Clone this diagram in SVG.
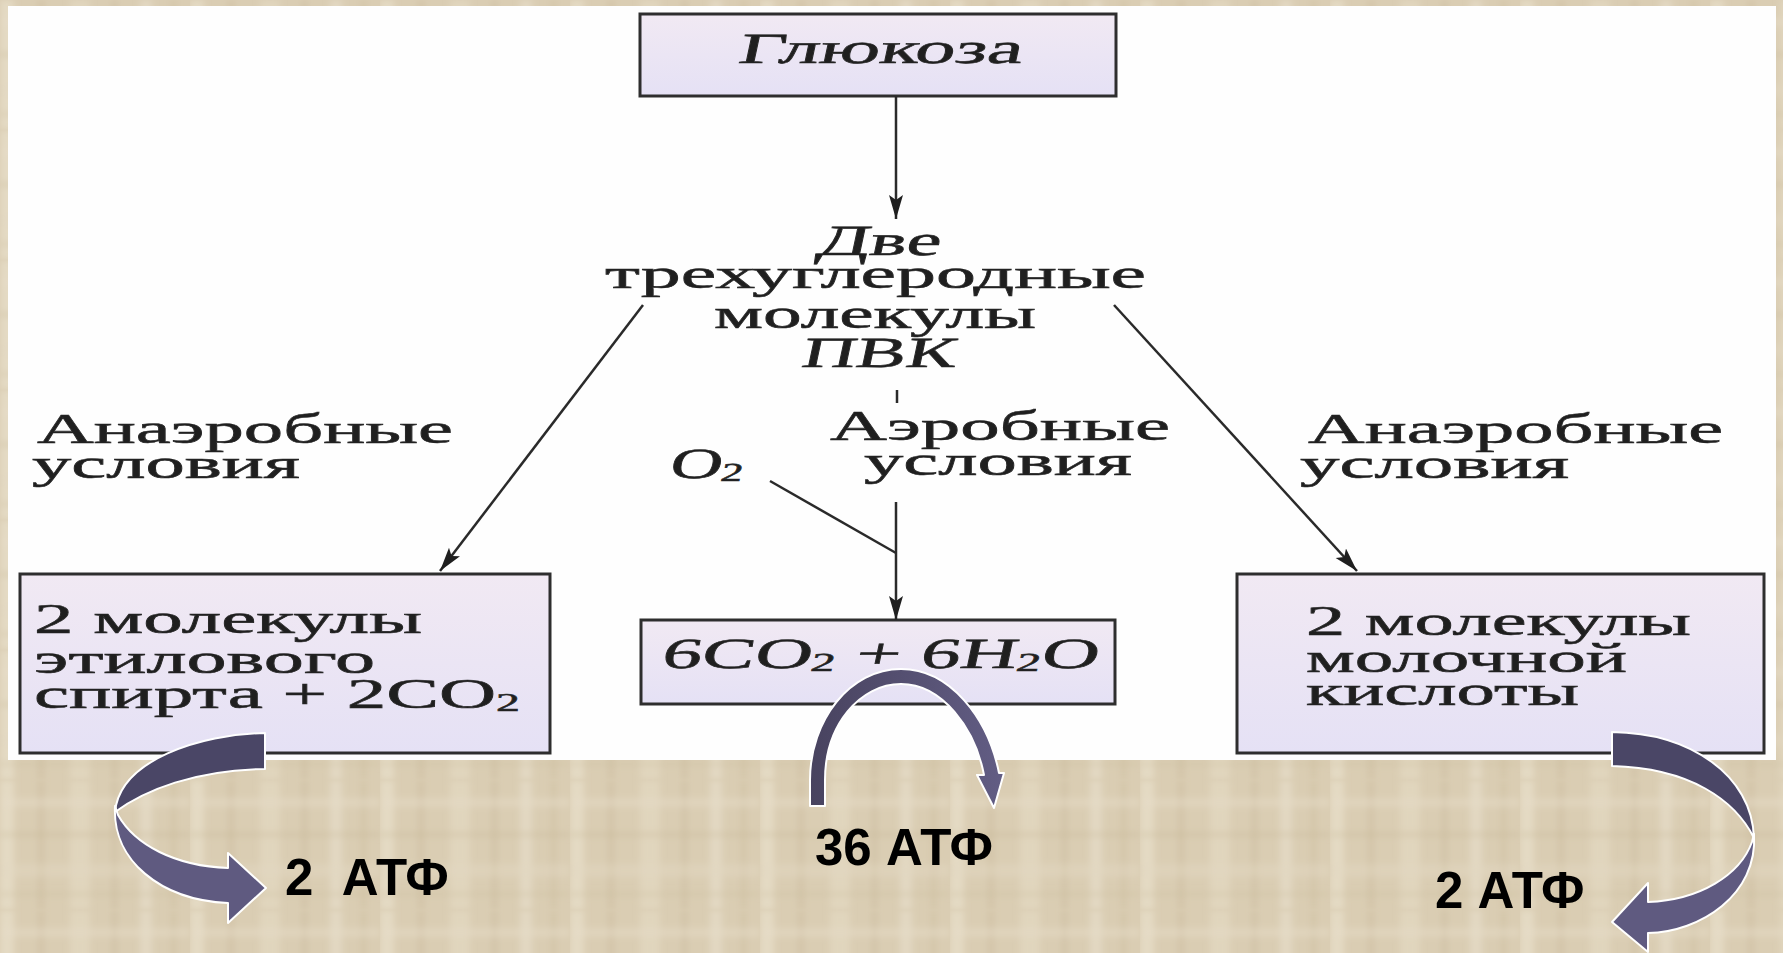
<svg xmlns="http://www.w3.org/2000/svg" width="1783" height="953" viewBox="0 0 1783 953">
<defs>
<style>
.bx{fill:url(#boxfill);stroke:#2e2e2e;stroke-width:3}
.t{font-family:"Liberation Serif","Times New Roman",serif;font-size:43px;fill:#1f1f1f;stroke:#2a2a2a;stroke-width:0.6}
.sub{font-size:26px}
.atp{font-family:"Liberation Sans",Arial,sans-serif;font-weight:bold;font-size:51px;fill:#000}
.ln{fill:none;stroke:#2a2a2a;stroke-width:2.5}
.arr{stroke:#fff;stroke-width:2;stroke-linejoin:round}
.dk{fill:#4a4666}
.lt{fill:#5f5a80}
</style>
<linearGradient id="boxfill" x1="0" y1="0" x2="0" y2="1">
<stop offset="0" stop-color="#f1e9f3"/>
<stop offset="1" stop-color="#e5e1f5"/>
</linearGradient>
<linearGradient id="midg" x1="0" y1="0" x2="1" y2="0">
<stop offset="0" stop-color="#48435f"/>
<stop offset="1" stop-color="#625d84"/>
</linearGradient>
<marker id="ah" markerUnits="userSpaceOnUse" markerWidth="26" markerHeight="16" refX="24" refY="7" orient="auto">
<path d="M0,0 L24,7 L0,14 L5,7 Z" fill="#1f1f1f"/>
</marker>
<filter id="soft" x="0" y="0" width="1" height="1"><feGaussianBlur stdDeviation="3"/></filter>
<pattern id="tex" width="190" height="130" patternUnits="userSpaceOnUse">
<rect width="190" height="130" fill="#dacdb3"/>
<g filter="url(#soft)">
<rect x="0" y="0" width="14" height="130" fill="#ebe2cf" opacity="0.6"/>
<rect x="38" y="0" width="6" height="130" fill="#c5b594" opacity="0.35"/>
<rect x="70" y="0" width="20" height="130" fill="#e7ddc7" opacity="0.5"/>
<rect x="112" y="0" width="5" height="130" fill="#bcab8a" opacity="0.3"/>
<rect x="140" y="0" width="12" height="130" fill="#ece4d2" opacity="0.5"/>
<rect x="170" y="0" width="7" height="130" fill="#cbbb9d" opacity="0.3"/>
<rect x="0" y="18" width="190" height="9" fill="#e8dfcb" opacity="0.4"/>
<rect x="0" y="52" width="190" height="5" fill="#c2b291" opacity="0.3"/>
<rect x="0" y="84" width="190" height="13" fill="#e3d9c3" opacity="0.4"/>
<rect x="0" y="112" width="190" height="4" fill="#c8b898" opacity="0.3"/>
</g>
</pattern>
</defs>

<rect id="background" x="0" y="0" width="1783" height="953" fill="url(#tex)"/>
<rect id="panel" x="8" y="6" width="1768" height="754" fill="#fefefe"/>

<g id="glucose">
<rect class="bx" x="640" y="14" width="476" height="82"/>
<text class="t" transform="translate(737,63) skewX(-12)" x="0" y="0" textLength="284" lengthAdjust="spacingAndGlyphs">Глюкоза</text>
</g>

<g id="pvk">
<text class="t" transform="translate(815,255) skewX(-12)" x="0" y="0" textLength="124" lengthAdjust="spacingAndGlyphs">Две</text>
<text class="t" x="605" y="288" textLength="541" lengthAdjust="spacingAndGlyphs">трехуглеродные</text>
<text class="t" x="714" y="328" textLength="322" lengthAdjust="spacingAndGlyphs">молекулы</text>
<text class="t" transform="translate(800,367) skewX(-12)" x="0" y="0" textLength="154" lengthAdjust="spacingAndGlyphs">ПВК</text>
</g>

<g id="label-anaerobic-left">
<text class="t" x="37" y="443" textLength="416" lengthAdjust="spacingAndGlyphs">Анаэробные</text>
<text class="t" x="32" y="478" textLength="268" lengthAdjust="spacingAndGlyphs">условия</text>
</g>

<g id="label-aerobic">
<text class="t" x="830" y="440" textLength="340" lengthAdjust="spacingAndGlyphs">Аэробные</text>
<text class="t" x="864" y="475" textLength="268" lengthAdjust="spacingAndGlyphs">условия</text>
</g>

<g id="label-o2">
<text class="t" transform="translate(668,478) skewX(-12)" x="0" y="0" textLength="74" lengthAdjust="spacingAndGlyphs">O<tspan class="sub" dy="3">2</tspan></text>
</g>

<g id="label-anaerobic-right">
<text class="t" x="1308" y="443" textLength="415" lengthAdjust="spacingAndGlyphs">Анаэробные</text>
<text class="t" x="1300" y="478" textLength="269" lengthAdjust="spacingAndGlyphs">условия</text>
</g>

<g id="ethanol">
<rect class="bx" x="20" y="574" width="530" height="179"/>
<text class="t" x="34" y="633" textLength="388" lengthAdjust="spacingAndGlyphs">2 молекулы</text>
<text class="t" x="34" y="673" textLength="341" lengthAdjust="spacingAndGlyphs">этилового</text>
<text class="t" x="34" y="708" textLength="486" lengthAdjust="spacingAndGlyphs">спирта + 2CO<tspan class="sub" dy="3">2</tspan></text>
</g>

<g id="co2-h2o">
<rect class="bx" x="641" y="620" width="474" height="84"/>
<text class="t" transform="translate(660,668) skewX(-12)" x="0" y="0" textLength="437" lengthAdjust="spacingAndGlyphs">6CO<tspan class="sub" dy="3">2</tspan><tspan dy="-3"> + 6H</tspan><tspan class="sub" dy="3">2</tspan><tspan dy="-3">O</tspan></text>
</g>

<g id="lactic">
<rect class="bx" x="1237" y="574" width="527" height="179"/>
<text class="t" x="1306" y="635" textLength="385" lengthAdjust="spacingAndGlyphs">2 молекулы</text>
<text class="t" x="1306" y="672" textLength="321" lengthAdjust="spacingAndGlyphs">молочной</text>
<text class="t" x="1306" y="705" textLength="273" lengthAdjust="spacingAndGlyphs">кислоты</text>
</g>

<g id="atp-left">
<text class="atp" x="285" y="895" xml:space="preserve">2  АТФ</text>
</g>
<g id="atp-mid">
<text class="atp" x="815" y="865">36 АТФ</text>
</g>
<g id="atp-right">
<text class="atp" x="1435" y="908">2 АТФ</text>
</g>

<g id="connectors">
<path class="ln" d="M896,96 L896,219" marker-end="url(#ah)"/>
<path class="ln" d="M643,305 L440,571" marker-end="url(#ah)"/>
<path class="ln" d="M1114,305 L1357,571" marker-end="url(#ah)"/>
<path class="ln" d="M897,390 L897,403"/>
<path class="ln" d="M770,481 L896,553"/>
<path class="ln" d="M896,502 L896,620" marker-end="url(#ah)"/>

<g id="arrow-atp-left" class="arr">
<path class="dk" d="M265,733 C200,734 120,760 115,812 C145,790 195,770 265,769 Z"/>
<path class="lt" d="M115,806 C112,860 160,900 228,903 L228,923 L266,888 L228,853 L228,868 C175,866 135,845 118,815 Z"/>
</g>
<g id="arrow-atp-mid" class="arr">
<path fill="url(#midg)" d="M810,806 L810,780 C810,720 850,669 901,669 C950,669 988,718 999,773 L1004,773 L994,808 L977,775 L984,775 C975,728 942,684 901,684 C860,684 825,725 825,780 L825,806 Z"/>
</g>
<g id="arrow-atp-right" class="arr">
<path class="dk" d="M1612,732 C1690,733 1752,775 1754,838 C1735,800 1690,768 1612,766 Z"/>
<path class="lt" d="M1754,834 C1758,895 1700,932 1648,933 L1648,952 L1612,922 L1648,883 L1648,902 C1700,900 1740,875 1752,842 Z"/>
</g>
</g>
</svg>
